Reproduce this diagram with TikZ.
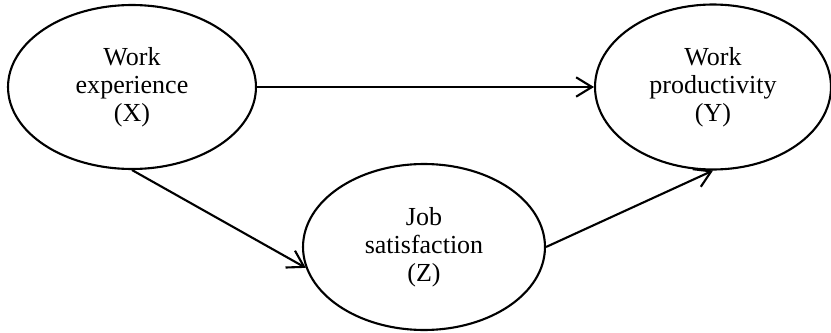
\documentclass[tikz,border=0pt]{standalone}
\usepackage{fontspec}
\setmainfont{Liberation Serif}
\usepackage{tikz}
\usetikzlibrary{shapes.geometric,arrows.meta}
\usetikzlibrary{positioning}

\begin{document}
\begin{tikzpicture}[x=0.02cm, y=0.02cm, line width=1.2pt,
    >={Straight Barb[length=9pt,width=11pt]},
    var/.style={draw, ellipse, inner sep=0pt, align=center,
        font=\fontsize{14.8}{16}\selectfont}]
            \useasboundingbox (0, 0) rectangle (831, 332);

            \node[var, minimum width=4.96cm, minimum height=3.28cm] (X) at (132, 245) {Work\\experience\\(X)};
            \node[var, minimum width=4.72cm, minimum height=3.3cm] (Y) at (713, 245) {Work\\productivity\\(Y)};
            \node[var, minimum width=4.84cm, minimum height=3.32cm] (Z) at (424, 85) {Job\\satisfaction\\(Z)};

            \draw[->] (X.east) -- (Y.west);
            \draw[->] (X.south) -- (Z.190);
            \draw[->] (Z.east) -- (Y.south);
        \end{tikzpicture}
\end{document}
